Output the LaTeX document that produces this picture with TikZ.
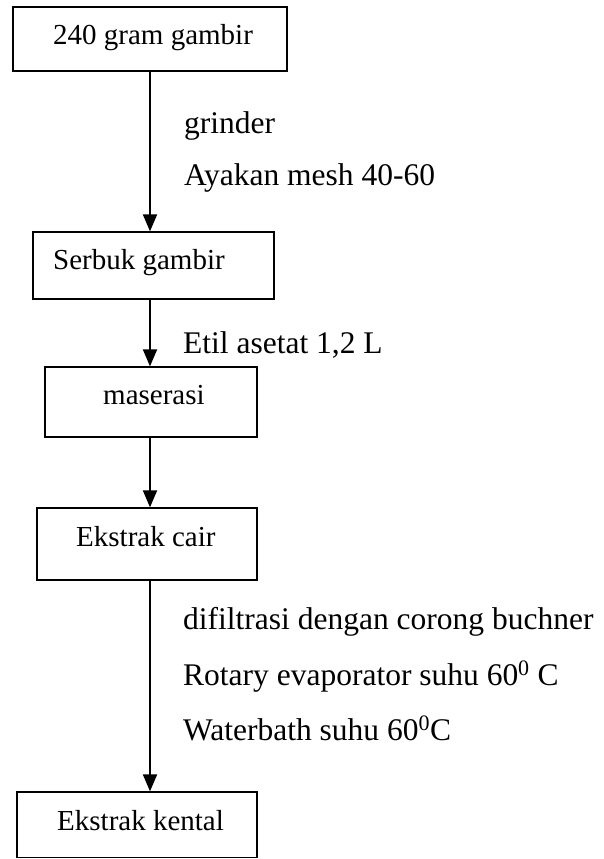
\documentclass[tikz,border=0pt]{standalone}
\usepackage{fontspec}
\setmainfont{Liberation Serif}
\usetikzlibrary{arrows.meta}
\begin{document}
\begin{tikzpicture}[x=1pt,y=-1pt,
  boxshape/.style={draw=black, line width=1.3pt, rectangle, inner sep=0pt},
  boxtext/.style={anchor=base west, inner sep=0pt, font=\fontsize{29}{34}\selectfont},
  labeltext/.style={anchor=base west, inner sep=0pt, font=\fontsize{31.5}{38}\selectfont},
  arr/.style={line width=2pt, -{Triangle[length=17pt,width=14pt]}}]
\useasboundingbox (0,0) rectangle (604,859);
% boxes
\node[boxshape, minimum width=274pt, minimum height=64pt] (b1) at (150,39) {};
\node[boxshape, minimum width=241pt, minimum height=67pt] (b2) at (153.5,265.5) {};
\node[boxshape, minimum width=212pt, minimum height=70pt] (b3) at (151,402) {};
\node[boxshape, minimum width=220pt, minimum height=72pt] (b4) at (147,544) {};
\node[boxshape, minimum width=240pt, minimum height=65.5pt] (b5) at (137,824.75) {};
% box texts
\node[boxtext] (t1) at (53,45) {240 gram gambir};
\node[boxtext] (t2) at (53,269) {Serbuk gambir};
\node[boxtext] (t3) at (103,404) {maserasi};
\node[boxtext] (t4) at (76,546) {Ekstrak cair};
\node[boxtext] (t5) at (57,830) {Ekstrak kental};
% axis of arrows
\coordinate (ax) at (150,0);
\draw[arr] (b1.south -| ax) -- (b2.north -| ax);
\draw[arr] (b2.south -| ax) -- (b3.north -| ax);
\draw[arr] (b3.south -| ax) -- (b4.north -| ax);
\draw[arr] (b4.south -| ax) -- (b5.north -| ax);
% labels
\node[labeltext] (l1) at (184,133) {grinder};
\node[labeltext] (l2) at (184,185) {Ayakan mesh 40-60};
\node[labeltext] (l3) at (183,353) {Etil asetat 1,2 L};
\node[labeltext] (l4) at (183,629) {difiltrasi dengan corong buchner};
\node[labeltext] (l5) at (183,685) {Rotary evaporator suhu 60\textsuperscript{0} C};
\node[labeltext] (l6) at (183,740) {Waterbath suhu 60\textsuperscript{0}C};
\end{tikzpicture}
\end{document}
